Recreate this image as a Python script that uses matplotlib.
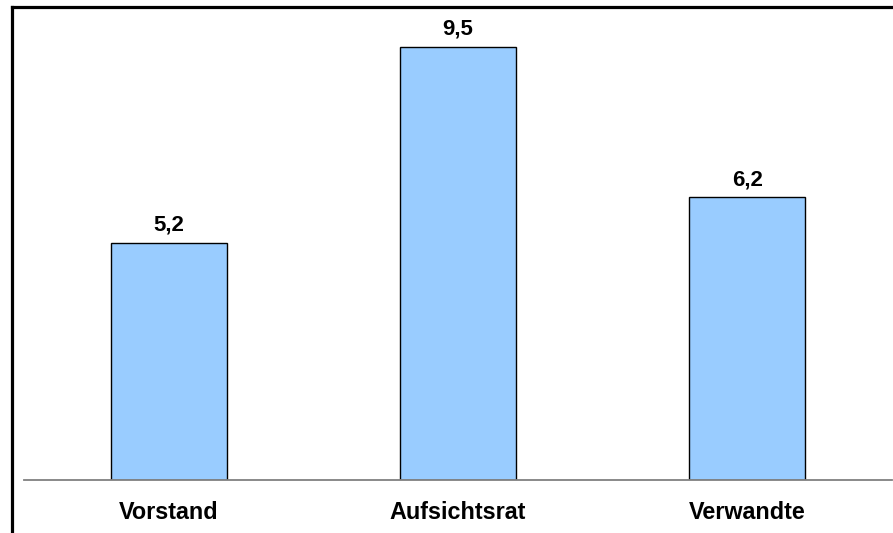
import matplotlib.pyplot as plt
from matplotlib.lines import Line2D

categories = ['Vorstand', 'Aufsichtsrat', 'Verwandte']
values = [5.2, 9.5, 6.2]
value_labels = ['5,2', '9,5', '6,2']

W, H = 893, 533
fig = plt.figure(figsize=(W / 100, H / 100), dpi=100)
fig.patch.set_facecolor('white')

# plot area in pixels: left 24, right 892, baseline 480, top 7
ax = fig.add_axes([24 / W, (H - 480) / H, (892 - 24) / W, (480 - 7) / H])
ax.set_facecolor('none')

x = range(len(categories))
ax.bar(x, values, width=0.4, color='#99CCFF', edgecolor='black', linewidth=1, zorder=2)
ax.set_xlim(-0.5, len(categories) - 0.5)
ax.set_ylim(0, 10.37)

for i, (v, lab) in enumerate(zip(values, value_labels)):
    ax.annotate(lab, (i, v), xytext=(0, 5), textcoords='offset points',
                ha='center', va='bottom', fontsize=16, fontweight='bold',
                family='Liberation Sans')

for s in ['top', 'right', 'left']:
    ax.spines[s].set_visible(False)
ax.spines['bottom'].set_color('#808080')
ax.spines['bottom'].set_linewidth(1.3)
ax.set_yticks([])
ax.set_xticks(list(x))
ax.set_xticklabels(categories, fontsize=16.8, fontweight='bold', family='Liberation Sans')
ax.tick_params(axis='x', length=0, pad=15)

# outer frame, open at right and bottom
fig.add_artist(Line2D([11.5 / W, 11.5 / W], [0, 1 - 6.5 / H], color='black', lw=2.3,
                      transform=fig.transFigure, solid_capstyle='projecting'))
fig.add_artist(Line2D([11.5 / W, 1], [1 - 6.5 / H, 1 - 6.5 / H], color='black', lw=2.3,
                      transform=fig.transFigure, solid_capstyle='projecting'))

fig.savefig('out.png', dpi=100)
